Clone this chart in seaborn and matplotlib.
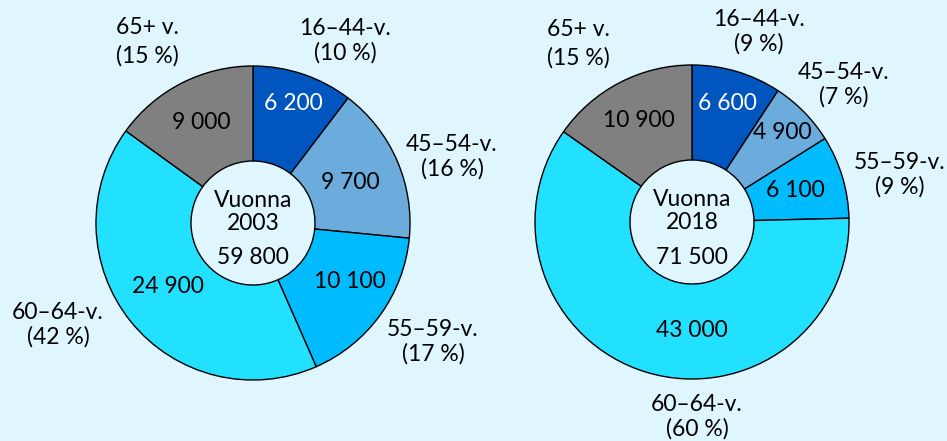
import numpy as np
import matplotlib.pyplot as plt
import seaborn as sns

# data
groups = ["16–44-v.", "45–54-v.", "55–59-v.", "60–64-v.", "65+ v."]
values_2003 = [6200, 9700, 10100, 24900, 9000]
values_2018 = [6600, 4900, 6100, 43000, 10900]
shares_2003 = [10, 16, 17, 42, 15]
shares_2018 = [9, 7, 9, 60, 15]
years = ["2003", "2018"]
totals = [59800, 71500]

colors = ["#0056BE", "#6BACDD", "#00BCFF", "#22E0FF", "#808080"]
bg = "#E0F6FE"

sns.set_theme(style="white")
plt.rcParams["font.family"] = ["Lato", "DejaVu Sans"]
plt.rcParams["text.color"] = "black"

W, H = 947, 441
R_OUT, R_IN = 157, 62
FS = 16.5


def fmt(v):
    return f"{v:,}".replace(",", " ")


# layout in pixel coords (y from top)
centers = [(253, 223), (692, 222)]
value_r = [[0.80, 0.67, 0.72, 0.675, 0.72], [0.79, 0.81, 0.69, 0.69, 0.73]]
value_nudge = [[0, -1, 5, -2, 0], [0, 0, 0, 17, 0]]
outer_pos = [
    [(345, 41), (452, 157), (433, 342), (58, 325), (147, 42)],
    [(759, 32), (844, 85), (900, 175), (697, 417), (578, 44)],
]

fig = plt.figure(figsize=(W / 100, H / 100), dpi=100, facecolor=bg)
ax = fig.add_axes([0, 0, 1, 1])
ax.set_facecolor(bg)

for i, (vals, shares) in enumerate([(values_2003, shares_2003), (values_2018, shares_2018)]):
    cx, cy = centers[i]
    cy = H - cy
    wedges, _ = ax.pie(
        vals,
        colors=colors,
        startangle=90,
        counterclock=False,
        center=(cx, cy),
        radius=R_OUT,
        wedgeprops=dict(width=R_OUT - R_IN, edgecolor="black", linewidth=1),
    )
    for j, w in enumerate(wedges):
        ang = np.deg2rad((w.theta1 + w.theta2) / 2 + value_nudge[i][j])
        r = value_r[i][j] * R_OUT
        ax.text(cx + r * np.cos(ang), cy + r * np.sin(ang), fmt(vals[j]),
                ha="center", va="center", fontsize=FS,
                color="white" if j == 0 else "black")
        ox, oy = outer_pos[i][j]
        ax.text(ox, H - oy, f"{groups[j]}\n({shares[j]} %)", ha="center", va="center",
                fontsize=FS, color="black",
                linespacing=1.4 if j == 4 else 1.15)
    ax.text(cx, cy + 11, f"Vuonna\n{years[i]}", ha="center", va="center",
            fontsize=FS, color="black", linespacing=1.1)
    ax.text(cx, cy - 35, fmt(totals[i]), ha="center", va="center",
            fontsize=FS, color="black")

ax.set_xlim(0, W)
ax.set_ylim(0, H)
ax.set_aspect("equal")
ax.axis("off")

fig.savefig("out.png", dpi=100, facecolor=bg)
